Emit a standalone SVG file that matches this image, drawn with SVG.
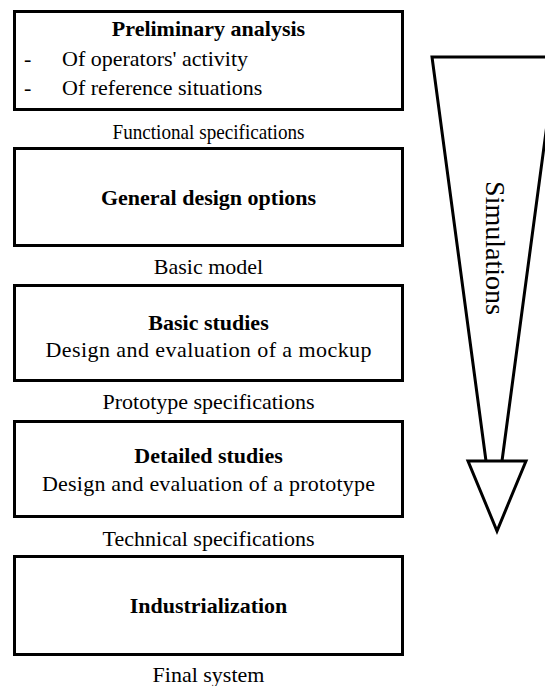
<svg xmlns="http://www.w3.org/2000/svg" width="545" height="686" viewBox="0 0 545 686">
<style>
.box{fill:#fff;stroke:#000;stroke-width:3}
.t{font-family:"Liberation Serif","Times New Roman",serif;font-size:22px;fill:#000;text-anchor:middle}
.b{font-weight:bold}
.l{text-anchor:start}
.arr{fill:#fff;stroke:#000;stroke-width:3;stroke-linejoin:miter}
</style>
<rect width="545" height="686" fill="#fff"/>
<g id="connectors">
<polyline class="arr" points="486,461 432,57 556,57 502,461"/>
<polygon class="arr" points="468,461 526,461 497,531"/>
<text class="t" font-size="28" style="font-size:28px" transform="translate(486,248) rotate(90)">Simulations</text>
</g>
<g id="preliminary">
<rect class="box" x="14.5" y="11.5" width="388" height="98"/>
<text class="t b" x="208.5" y="36">Preliminary analysis</text>
<text class="t l" x="24" y="66">-</text>
<text class="t l" x="62" y="66">Of operators' activity</text>
<text class="t l" x="24" y="95">-</text>
<text class="t l" x="62" y="95">Of reference situations</text>
</g>
<text class="t" x="208.5" y="139" textLength="192" lengthAdjust="spacingAndGlyphs">Functional specifications</text>
<g id="general">
<rect class="box" x="14.5" y="148.5" width="388" height="97"/>
<text class="t b" x="208.5" y="205">General design options</text>
</g>
<text class="t" x="208.5" y="274">Basic model</text>
<g id="basic">
<rect class="box" x="14.5" y="285.5" width="388" height="95"/>
<text class="t b" x="208.5" y="330">Basic studies</text>
<text class="t" x="208.5" y="357" textLength="326">Design and evaluation of a mockup</text>
</g>
<text class="t" x="208.5" y="409">Prototype specifications</text>
<g id="detailed">
<rect class="box" x="14.5" y="421.5" width="388" height="95"/>
<text class="t b" x="208.5" y="463">Detailed studies</text>
<text class="t" x="208.5" y="491" textLength="333">Design and evaluation of a prototype</text>
</g>
<text class="t" x="208.5" y="546" textLength="212">Technical specifications</text>
<g id="industrialization">
<rect class="box" x="14.5" y="556.5" width="388" height="98"/>
<text class="t b" x="208.5" y="613">Industrialization</text>
</g>
<text class="t" x="208.5" y="682">Final system</text>
</svg>
